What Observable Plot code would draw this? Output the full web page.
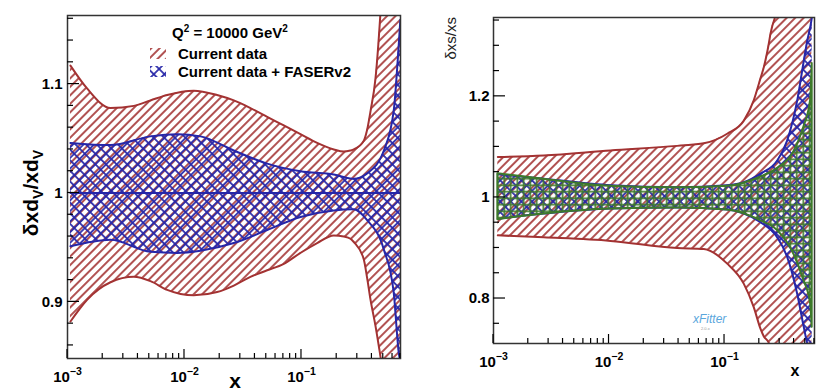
<!DOCTYPE html>
<html>
<head>
<meta charset="utf-8">
<script src="https://cdn.jsdelivr.net/npm/d3@7"></script>
<script src="https://cdn.jsdelivr.net/npm/@observablehq/plot@0.6"></script>
<style>
  body { margin: 0; background: #fff; }
  #wrap { position: relative; width: 821px; height: 391px; overflow: hidden; background: #fff; }
  #left, #right { position: absolute; top: 0; }
  #left { left: 0; }
  #right { left: 410px; }
</style>
</head>
<body>
<svg width="0" height="0" style="position:absolute">
  <defs>
    <pattern id="redHatch" patternUnits="userSpaceOnUse" width="6" height="6" patternTransform="rotate(-45)">
      <line x1="0" y1="3" x2="6" y2="3" stroke="#a33232" stroke-width="1.7"/>
    </pattern>
    <pattern id="blueCross" patternUnits="userSpaceOnUse" width="7.5" height="7.5" patternTransform="rotate(45)">
      <line x1="0" y1="3.75" x2="7.5" y2="3.75" stroke="#2626a8" stroke-width="1.7"/>
      <line x1="3.75" y1="0" x2="3.75" y2="7.5" stroke="#2626a8" stroke-width="1.7"/>
    </pattern>
    <pattern id="greenGrid" patternUnits="userSpaceOnUse" width="6.5" height="6.5">
      <line x1="0" y1="3.25" x2="6.5" y2="3.25" stroke="#3d7a2a" stroke-width="1.6"/>
      <line x1="3.25" y1="0" x2="3.25" y2="6.5" stroke="#3d7a2a" stroke-width="1.6"/>
    </pattern>
  </defs>
</svg>
<div id="wrap">
  <div id="left"></div>
  <div id="right"></div>
</div>
<script>
// ---------------- DATA ----------------
// Left panel: delta xd_V / xd_V at Q^2 = 10000 GeV^2
const leftRedX  = [0.00106, 0.00147, 0.00233, 0.00369, 0.00512, 0.00711, 0.0120, 0.0190, 0.0264, 0.0366, 0.0509, 0.0706, 0.098, 0.136, 0.189, 0.230, 0.262, 0.280, 0.341, 0.364, 0.389, 0.429, 0.473, 0.506, 0.615, 0.70];
const leftRedHi = [1.117, 1.096, 1.078, 1.080, 1.085, 1.090, 1.094, 1.090, 1.085, 1.078, 1.070, 1.062, 1.054, 1.046, 1.040, 1.038, 1.039, 1.040, 1.048, 1.058, 1.075, 1.105, 1.165, 1.22, 1.22, 1.22];
const leftRedLo = [0.882, 0.902, 0.918, 0.923, 0.919, 0.911, 0.906, 0.909, 0.915, 0.923, 0.929, 0.935, 0.945, 0.954, 0.961, 0.960, 0.958, 0.955, 0.939, 0.922, 0.902, 0.878, 0.850, 0.83, 0.83, 0.83];

const leftBlueX  = [0.00106, 0.00233, 0.00512, 0.00867, 0.0137, 0.0264, 0.0509, 0.098, 0.189, 0.280, 0.364, 0.506, 0.615, 0.679, 0.70];
const leftBlueHi = [1.046, 1.044, 1.052, 1.054, 1.052, 1.039, 1.027, 1.020, 1.017, 1.013, 1.018, 1.039, 1.076, 1.137, 1.159];
const leftBlueLo = [0.951, 0.957, 0.946, 0.945, 0.947, 0.954, 0.966, 0.978, 0.984, 0.985, 0.975, 0.948, 0.908, 0.853, 0.845];

// Right panel: delta xs / xs
const rightRedX  = [0.00109, 0.00272, 0.0103, 0.0389, 0.0662, 0.1054, 0.147, 0.179, 0.205, 0.219, 0.242, 0.250, 0.277, 0.35, 0.45, 0.57];
const rightRedHi = [1.080, 1.083, 1.093, 1.102, 1.107, 1.126, 1.152, 1.192, 1.236, 1.258, 1.305, 1.324, 1.36, 1.40, 1.40, 1.40];
const rightRedLo = [0.925, 0.921, 0.914, 0.900, 0.898, 0.869, 0.829, 0.783, 0.740, 0.725, 0.712, 0.70, 0.69, 0.69, 0.69, 0.69];

const rightBlueX  = [0.00109, 0.00272, 0.0103, 0.0389, 0.1054, 0.147, 0.205, 0.286, 0.349, 0.426, 0.486, 0.520, 0.556, 0.574];
const rightBlueHi = [1.046, 1.037, 1.024, 1.020, 1.024, 1.030, 1.047, 1.073, 1.113, 1.192, 1.271, 1.31, 1.341, 1.36];
const rightBlueLo = [0.958, 0.968, 0.978, 0.980, 0.976, 0.968, 0.951, 0.921, 0.882, 0.809, 0.743, 0.712, 0.70, 0.70];

const rightGreenX  = [0.00109, 0.00272, 0.0103, 0.0389, 0.1054, 0.205, 0.286, 0.398, 0.486, 0.556, 0.574];
const rightGreenHi = [1.047, 1.036, 1.022, 1.019, 1.022, 1.040, 1.057, 1.090, 1.139, 1.192, 1.265];
const rightGreenLo = [0.956, 0.967, 0.977, 0.979, 0.975, 0.954, 0.935, 0.888, 0.836, 0.790, 0.743];

// Axis ticks
const xMajorTicks = [0.001, 0.01, 0.1];
const leftYLabels = [0.9, 1, 1.1];
const rightYLabels = [0.8, 1, 1.2];

// Text
const legendTitle = "Q";
const legendLabels = ["Current data", "Current data + FASERv2"];

// ---------------- STYLE ----------------
const RED = "#a33232", BLUE = "#2626a8", GREEN = "#3d7a2a";
const FONT = "'Liberation Sans', Arial, Helvetica, sans-serif";
const curve = "monotone-x";

const band = (xs, hi, lo) => xs.map((x, i) => ({x, hi: hi[i], lo: lo[i]}));
const redL = band(leftRedX, leftRedHi, leftRedLo);
const blueL = band(leftBlueX, leftBlueHi, leftBlueLo);
const redR = band(rightRedX, rightRedHi, rightRedLo);
const blueR = band(rightBlueX, rightBlueHi, rightBlueLo);
const greenR = band(rightGreenX, rightGreenHi, rightGreenLo);

const bandMarks = (data, fill, color, closed) => [
  Plot.areaY(data, {x: "x", y1: "lo", y2: "hi", fill, curve, clip: true}),
  ...(closed
    ? [Plot.areaY(data, {x: "x", y1: "lo", y2: "hi", fill: "none", stroke: color, strokeWidth: 2, curve, clip: true})]
    : [Plot.lineY(data, {x: "x", y: "hi", stroke: color, strokeWidth: 2, curve, clip: true}),
       Plot.lineY(data, {x: "x", y: "lo", stroke: color, strokeWidth: 2, curve, clip: true})])
];

const supFormat = d => "10^" + Math.round(Math.log10(d));

function fixSup(svg, size) {
  svg.querySelectorAll("text").forEach(t => {
    const m = /^10\^(-?\d+)$/.exec(t.textContent);
    if (!m) return;
    t.textContent = "";
    const s = d3.select(t);
    s.append("tspan").text("10");
    s.append("tspan").attr("dy", -size * 0.45).attr("font-size", size * 0.7).text(m[1].replace("-", "\u2212"));
  });
}

function inwardTicks(svg, chart, yStep, yMin, yMax, yMajor, yMajLen) {
  const x = chart.scale("x"), y = chart.scale("y");
  const g = d3.select(svg).append("g").attr("stroke", "#000").attr("stroke-width", 1.2);
  const [x0, x1] = x.range;
  const [yb, yt] = y.range;
  for (let v = yMin; v <= yMax + 1e-9; v += yStep) {
    const vv = Math.round(v * 1000) / 1000;
    const major = yMajor.some(m => Math.abs(m - vv) < 1e-6);
    const py = y.apply(vv);
    g.append("line").attr("x1", x0).attr("x2", x0 + (major ? yMajLen : yMajLen / 2)).attr("y1", py).attr("y2", py);
  }
  const [d0, d1] = x.domain;
  for (let e = -3; e <= 0; e++) {
    for (let k = 1; k <= 9; k++) {
      const v = k * Math.pow(10, e);
      if (v < d0 * 0.999 || v > d1) continue;
      const px = x.apply(v);
      g.append("line").attr("x1", px).attr("x2", px).attr("y1", yb).attr("y2", yb - (k === 1 ? 9 : 5));
    }
  }
}

// ---------------- LEFT PANEL ----------------
const left = Plot.plot({
  width: 410, height: 391,
  marginLeft: 67, marginRight: 10, marginTop: 15, marginBottom: 33,
  style: {fontFamily: FONT, fontWeight: "bold", fontSize: "15px", color: "#000", background: "transparent"},
  x: {type: "log", domain: [0.001, 0.702]},
  y: {domain: [0.848, 1.163]},
  marks: [
    ...bandMarks(redL, "url(#redHatch)", RED, false),
    ...bandMarks(blueL, "url(#blueCross)", BLUE, false),
    Plot.lineY(blueL, {x: "x", y: () => 1, stroke: BLUE, strokeWidth: 2, clip: true}),
    Plot.axisX(xMajorTicks, {tickFormat: supFormat, tickSize: 0, tickPadding: 13, label: null, fontSize: 15}),
    Plot.axisY(leftYLabels, {tickFormat: d => String(d), tickSize: 0, tickPadding: 5, label: null, fontSize: 15}),
    Plot.frame({stroke: "#333", strokeWidth: 1.5})
  ]
});
document.getElementById("left").appendChild(left);
fixSup(left, 15);
inwardTicks(left, left, 0.02, 0.86, 1.16, leftYLabels, 12);
{
  const s = d3.select(left);
  const yl = s.append("text").attr("transform", "translate(38,193) rotate(-90)")
    .attr("text-anchor", "middle").attr("font-size", 21).attr("font-weight", "bold").attr("fill", "#000");
  yl.append("tspan").text("\u03b4xd");
  yl.append("tspan").attr("dy", 5).attr("font-size", 14).text("V");
  yl.append("tspan").attr("dy", -5).text("/xd");
  yl.append("tspan").attr("dy", 5).attr("font-size", 14).text("V");
  s.append("text").attr("x", 235).attr("y", 388).attr("text-anchor", "middle")
    .attr("font-size", 21).attr("font-weight", "bold").attr("fill", "#000").text("x");
  const t = s.append("text").attr("x", 172).attr("y", 38).attr("text-anchor", "start")
    .attr("font-size", 15).attr("font-weight", "bold").attr("fill", "#000");
  t.append("tspan").text(legendTitle);
  t.append("tspan").attr("dy", -6).attr("font-size", 10).text("2");
  t.append("tspan").attr("dy", 6).text(" = 10000 GeV");
  t.append("tspan").attr("dy", -6).attr("font-size", 10).text("2");
  const items = [["url(#redHatch)", 59], ["url(#blueCross)", 77]];
  items.forEach(([f, yy], i) => {
    s.append("rect").attr("x", 150).attr("y", yy - 11).attr("width", 16).attr("height", 11).attr("fill", f);
    s.append("text").attr("x", 178).attr("y", yy).attr("text-anchor", "start").attr("font-size", 15)
      .attr("font-weight", "bold").attr("fill", "#000").text(legendLabels[i]);
  });
}

// ---------------- RIGHT PANEL ----------------
const right = Plot.plot({
  width: 411, height: 391,
  marginLeft: 83, marginRight: 7, marginTop: 17, marginBottom: 48,
  style: {fontFamily: FONT, fontWeight: "bold", fontSize: "15px", color: "#000", background: "transparent"},
  x: {type: "log", domain: [0.001, 0.601]},
  y: {domain: [0.711, 1.356]},
  marks: [
    ...bandMarks(redR, "url(#redHatch)", RED, false),
    ...bandMarks(blueR, "url(#blueCross)", BLUE, false),
    ...bandMarks(greenR, "url(#greenGrid)", GREEN, true),
    Plot.axisX(xMajorTicks, {tickFormat: supFormat, tickSize: 0, tickPadding: 13, label: null, fontSize: 15}),
    Plot.axisY(rightYLabels, {tickFormat: d => String(d), tickSize: 0, tickPadding: 4, label: null, fontSize: 15}),
    Plot.frame({stroke: "#333", strokeWidth: 1.5})
  ]
});
document.getElementById("right").appendChild(right);
fixSup(right, 15);
inwardTicks(right, right, 0.05, 0.75, 1.35, rightYLabels, 12);
{
  const s = d3.select(right);
  s.append("text").attr("transform", "translate(46,17) rotate(-90)").attr("text-anchor", "end")
    .attr("font-size", 15).attr("font-weight", "normal").attr("fill", "#222").text("\u03b4xs/xs");
  s.append("text").attr("x", 385).attr("y", 376).attr("text-anchor", "middle")
    .attr("font-size", 16).attr("font-weight", "bold").attr("fill", "#000").text("x");
  s.append("text").attr("x", 283).attr("y", 323).attr("text-anchor", "start").attr("font-size", 12)
    .attr("font-style", "italic").attr("font-weight", "normal").attr("fill", "#5aa6dc").text("xFitter");
  s.append("text").attr("x", 291).attr("y", 330).attr("text-anchor", "start").attr("font-size", 4)
    .attr("font-weight", "normal").attr("fill", "#999").text("2.0.x");
}
</script>
</body>
</html>
